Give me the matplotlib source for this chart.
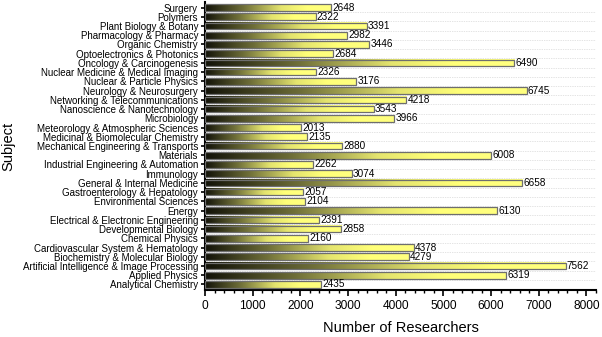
import numpy as np
import matplotlib
matplotlib.use("Agg")
import matplotlib.pyplot as plt
from matplotlib.colors import LinearSegmentedColormap

subjects = [
    "Analytical Chemistry", "Applied Physics", "Artificial Intelligence & Image Processing",
    "Biochemistry & Molecular Biology", "Cardiovascular System & Hematology", "Chemical Physics",
    "Developmental Biology", "Electrical & Electronic Engineering", "Energy",
    "Environmental Sciences", "Gastroenterology & Hepatology", "General & Internal Medicine",
    "Immunology", "Industrial Engineering & Automation", "Materials",
    "Mechanical Engineering & Transports", "Medicinal & Biomolecular Chemistry",
    "Meteorology & Atmospheric Sciences", "Microbiology", "Nanoscience & Nanotechnology",
    "Networking & Telecommunications", "Neurology & Neurosurgery", "Nuclear & Particle Physics",
    "Nuclear Medicine & Medical Imaging", "Oncology & Carcinogenesis", "Optoelectronics & Photonics",
    "Organic Chemistry", "Pharmacology & Pharmacy", "Plant Biology & Botany", "Polymers", "Surgery",
]
researchers = [
    2435, 6319, 7562, 4279, 4378, 2160, 2858, 2391, 6130, 2104, 2057, 6658, 3074, 2262, 6008,
    2880, 2135, 2013, 3966, 3543, 4218, 6745, 3176, 2326, 6490, 2684, 3446, 2982, 3391, 2322, 2648,
]
x_ticks = [0, 1000, 2000, 3000, 4000, 5000, 6000, 7000, 8000]

plt.rcParams['font.family'] = ['Liberation Sans', 'DejaVu Sans']

fig = plt.figure(figsize=(6.02, 3.37), dpi=100)
ax = fig.add_axes([205/602, 1 - 290/337, (596-205)/602, 288/337])

cmap = LinearSegmentedColormap.from_list(
    "bk_y", [(0.0, "#121208"), (0.3, "#6e6e38"), (0.6, "#e4e46e"), (0.8, "#ffff78"), (1.0, "#ffff80")])
grad = np.linspace(0, 1, 256).reshape(1, -1)

h = 0.72
ypos = np.arange(len(subjects))
for y, v in zip(ypos, researchers):
    ax.imshow(grad, cmap=cmap, aspect="auto", extent=[0, v, y - h/2, y + h/2],
              interpolation="bilinear", zorder=2)
    ax.add_patch(plt.Rectangle((0, y - h/2), v, h, fill=False, edgecolor="#6e6e6e",
                               linewidth=0.9, zorder=3))
    ax.text(v + 25, y, str(v), fontsize=7.2, va="center", ha="left", zorder=4)

ax.set_xlim(0, 8200)
ax.set_ylim(-0.6, len(subjects) - 0.4)
ax.set_yticks(ypos)
ax.set_yticklabels(subjects, fontsize=7.0)
ax.set_yticks(ypos[:-1] + 0.5, minor=True)
ax.set_xticks(x_ticks)
ax.set_xticklabels([str(t) for t in x_ticks], fontsize=8.6)
ax.set_xticks([t for t in range(200, 8201, 200) if t % 1000 != 0], minor=True)

ax.grid(axis="y", which="minor", color="#c8c8c8", linestyle=(0, (1, 1.5)), linewidth=0.5, zorder=0)
ax.set_axisbelow(True)

for s in ["top", "right"]:
    ax.spines[s].set_visible(False)
ax.spines["left"].set_linewidth(1.5)
ax.spines["bottom"].set_linewidth(1.5)
ax.tick_params(axis="y", which="major", direction="out", length=3, width=1.2, pad=2)
ax.tick_params(axis="y", which="minor", length=0)
ax.tick_params(axis="x", which="major", direction="out", length=4, width=1.2, pad=3)
ax.tick_params(axis="x", which="minor", direction="out", length=2.5, width=1.0)

ax.set_xlabel("Number of Researchers", fontsize=10.5, labelpad=7)
ax.set_ylabel("Subject", fontsize=10.5, labelpad=5)

fig.savefig("out.png", dpi=100)
